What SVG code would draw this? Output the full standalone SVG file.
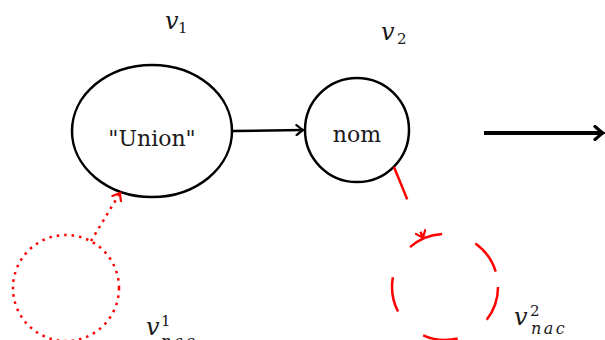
<svg xmlns="http://www.w3.org/2000/svg" width="605" height="340" viewBox="0 0 605 340">
<style>
.node{fill:none;stroke:#000;stroke-width:2.5}
.lbl{font-family:"DejaVu Serif","Liberation Serif",serif;font-size:22px;fill:#1a1a1a;text-anchor:middle}
.mv{font-family:"DejaVu Serif","Liberation Serif",serif;font-style:italic;font-size:24px;fill:#1a1a1a}
.ms{font-family:"DejaVu Serif","Liberation Serif",serif;font-size:15px;fill:#1a1a1a}
.mi{font-family:"DejaVu Serif","Liberation Serif",serif;font-style:italic;font-size:16px;fill:#1a1a1a;letter-spacing:2.5px}
.nac{fill:none;stroke:#ff0000;stroke-width:2.5}
</style>
<defs>
<marker id="ah" viewBox="-8 -6 10 12" refX="0" refY="0" markerWidth="10" markerHeight="12" markerUnits="userSpaceOnUse" orient="auto">
<path d="M-6.5,-5 Q-1.5,-1 0,0 Q-1.5,1 -6.5,5" fill="none" stroke="#000" stroke-width="2.2" stroke-linecap="round"/>
</marker>
<marker id="ahb" viewBox="-10 -8 12 16" refX="0" refY="0" markerWidth="12" markerHeight="16" markerUnits="userSpaceOnUse" orient="auto">
<path d="M-8,-6.5 Q-2,-1.2 0,0 Q-2,1.2 -8,6.5" fill="none" stroke="#000" stroke-width="3.2" stroke-linecap="round"/>
</marker>
<marker id="ahr" viewBox="-8 -6 10 12" refX="0" refY="0" markerWidth="10" markerHeight="12" markerUnits="userSpaceOnUse" orient="auto">
<path d="M-6.5,-5 Q-1.5,-1 0,0 Q-1.5,1 -6.5,5" fill="none" stroke="#ff0000" stroke-width="2.2" stroke-linecap="round"/>
</marker>
</defs>
<g id="v1">
<ellipse class="node" cx="152" cy="131" rx="80" ry="66"/>
<text class="lbl" x="152" y="146">"Union"</text>
<text class="mv" x="165" y="29">v</text><text class="ms" x="178" y="33">1</text>
</g>
<g id="v2">
<circle class="node" cx="357" cy="130" r="52"/>
<text class="lbl" x="357" y="142">nom</text>
<text class="mv" x="381" y="40">v</text><text class="ms" x="397" y="44">2</text>
</g>
<g id="nac1">
<circle class="nac" cx="66" cy="288" r="53" stroke-dasharray="2.5 5"/>
<text class="mv" x="146" y="335">v</text><text class="ms" x="161" y="326">1</text><text class="mi" x="161" y="347">nac</text>
</g>
<g id="nac2">
<circle class="nac" cx="445" cy="287" r="53" stroke-dasharray="35.2 35.2"/>
<text class="mv" x="514" y="325">v</text><text class="ms" x="530" y="316">2</text><text class="mi" x="531" y="334">nac</text>
</g>
<g id="connectors">
<line x1="233" y1="131" x2="303" y2="130" stroke="#000" stroke-width="2.5" marker-end="url(#ah)"/>
<line x1="484" y1="133" x2="603" y2="133" stroke="#000" stroke-width="4" marker-end="url(#ahb)"/>
<line x1="91" y1="241" x2="120" y2="193" class="nac" stroke-dasharray="2.5 5" marker-end="url(#ahr)"/>
<line x1="394" y1="167" x2="423" y2="238" class="nac" stroke-dasharray="35 35" marker-end="url(#ahr)"/>
</g>
</svg>
